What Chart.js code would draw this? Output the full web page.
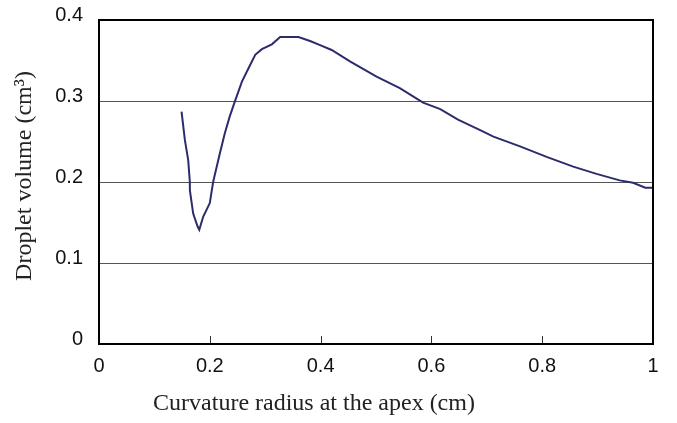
<!DOCTYPE html>
<html>
<head>
<meta charset="utf-8">
<script src="https://cdn.jsdelivr.net/npm/chart.js@4"></script>
<style>
  html, body { margin: 0; padding: 0; background: #fff; }
  #wrap { width: 677px; height: 423px; }
</style>
</head>
<body>
<div id="wrap"><canvas id="dropChart" width="677" height="423"></canvas></div>
<script>
// curvature radius at the apex (cm)
const radius = [
  0.149, 0.155, 0.161, 0.164, 0.164, 0.170, 0.178, 0.181, 0.188, 0.200,
  0.206, 0.218, 0.227, 0.236, 0.245, 0.258, 0.271, 0.282, 0.294, 0.312,
  0.327, 0.342, 0.360, 0.381, 0.399, 0.420, 0.453, 0.501, 0.543, 0.585,
  0.616, 0.648, 0.688, 0.712, 0.760, 0.808, 0.856, 0.898, 0.940, 0.964,
  0.986, 0.999
];
// droplet volume (cm3)
const volume = [
  0.287, 0.252, 0.227, 0.200, 0.190, 0.161, 0.145, 0.141, 0.157, 0.174,
  0.200, 0.235, 0.260, 0.281, 0.299, 0.324, 0.342, 0.357, 0.364, 0.370,
  0.379, 0.379, 0.379, 0.374, 0.369, 0.363, 0.349, 0.330, 0.316, 0.298,
  0.290, 0.277, 0.264, 0.256, 0.244, 0.231, 0.219, 0.210, 0.202, 0.199,
  0.193, 0.193
];

const xTitle = "Curvature radius at the apex (cm)";
const yTitle = "Droplet volume (cm³)";

const points = radius.map((r, i) => ({ x: r, y: volume[i] }));

// frame, inward x ticks and the axis titles
const framePlugin = {
  id: "frame",
  afterDraw(chart) {
    const { ctx, chartArea: a, scales } = chart;
    ctx.save();
    ctx.strokeStyle = "#333";
    ctx.lineWidth = 1;
    scales.x.ticks.forEach(t => {
      const px = Math.round(scales.x.getPixelForValue(t.value)) + 0.5;
      ctx.beginPath();
      ctx.moveTo(px, a.bottom);
      ctx.lineTo(px, a.bottom - 8);
      ctx.stroke();
    });
    ctx.strokeStyle = "#000";
    ctx.lineWidth = 2;
    ctx.strokeRect(a.left, a.top, a.right - a.left, a.bottom - a.top);
    ctx.fillStyle = "#222";
    ctx.font = "24px 'Liberation Serif', 'Times New Roman', serif";
    ctx.textAlign = "center";
    ctx.textBaseline = "middle";
    ctx.fillText(xTitle, 314, 404);
    ctx.translate(25, 176);
    ctx.rotate(-Math.PI / 2);
    ctx.fillText(yTitle, 0, 0);
    ctx.restore();
  }
};

const fmt = v => Number(v.toFixed(2)).toString();

new Chart(document.getElementById("dropChart"), {
  type: "scatter",
  data: {
    datasets: [{
      data: points,
      showLine: true,
      borderColor: "#2c2c6c",
      borderWidth: 2,
      pointRadius: 0,
      tension: 0,
      fill: false
    }]
  },
  options: {
    responsive: false,
    animation: false,
    layout: { padding: { top: 20, right: 24, left: 0, bottom: 0 } },
    plugins: {
      legend: { display: false },
      tooltip: { enabled: false }
    },
    scales: {
      x: {
        type: "linear",
        min: 0,
        max: 1,
        afterFit: s => {
          s.height = 79;
          s.paddingLeft = 0;
          s.paddingRight = 0;
        },
        border: { display: false },
        grid: { display: false, drawTicks: false },
        ticks: {
          stepSize: 0.2,
          padding: 10,
          color: "#111",
          callback: fmt,
          font: { family: "'Liberation Sans', Arial, sans-serif", size: 20 },
          maxRotation: 0
        }
      },
      y: {
        min: 0,
        max: 0.4,
        afterFit: s => {
          s.width = 99;
          s.paddingTop = 0;
          s.paddingBottom = 0;
        },
        border: { display: false },
        grid: { color: "#555", lineWidth: 1, drawTicks: false },
        ticks: {
          stepSize: 0.1,
          padding: 16,
          labelOffset: -5,
          color: "#111",
          callback: fmt,
          font: { family: "'Liberation Sans', Arial, sans-serif", size: 20 }
        }
      }
    }
  },
  plugins: [framePlugin]
});
</script>
</body>
</html>
